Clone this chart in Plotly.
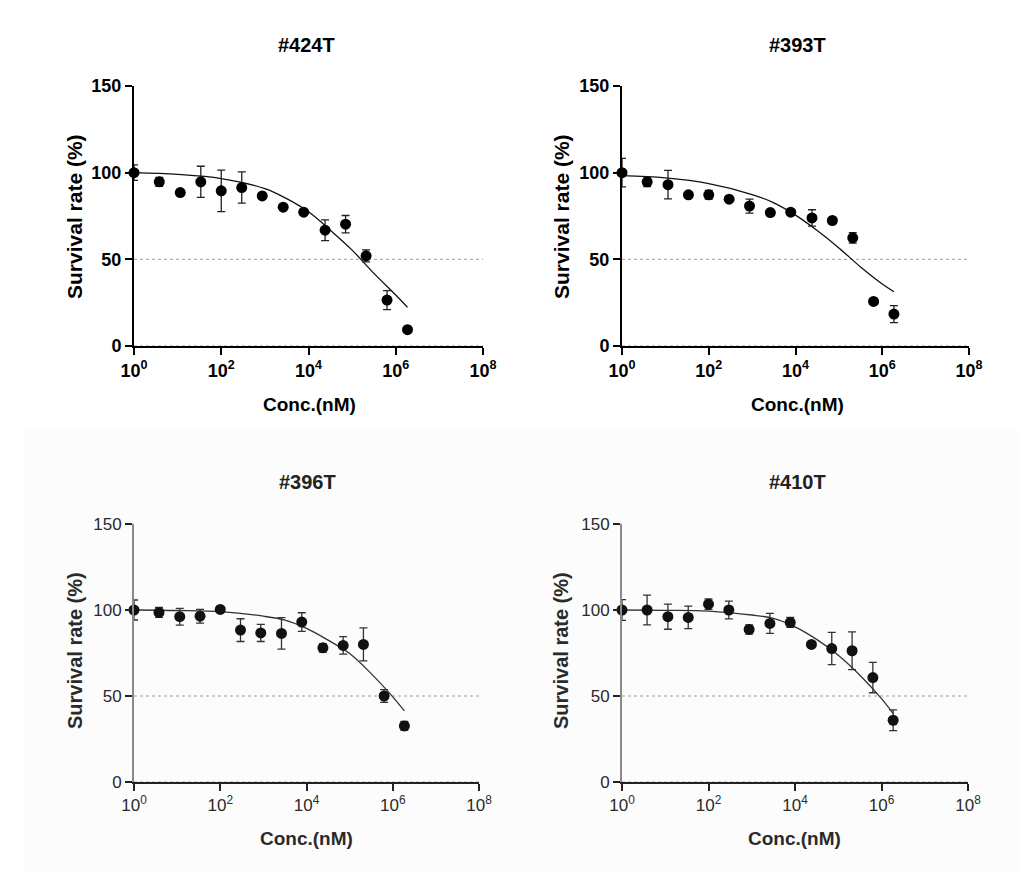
import plotly.graph_objects as go

# ---------------- data ----------------
conc = [1, 3.8, 11.5, 34, 100, 295, 870, 2630, 7760, 24000, 70800, 209000, 631000, 1860000]

titles = ["#424T", "#393T", "#396T", "#410T"]

surv_424 = [100, 94.7, 88.5, 94.7, 89.5, 91.4, 86.6, 80.1, 77.2, 66.8, 70.3, 52.0, 26.5, 9.4]
err_424 = [4.5, 2.6, 1.0, 9.0, 12.0, 9.0, 1.0, 1.0, 1.5, 6.0, 5.0, 3.5, 5.5, 1.0]

surv_393 = [100, 94.7, 93.1, 87.2, 87.2, 84.7, 80.7, 77.0, 77.2, 73.9, 72.4, 62.4, 25.7, 18.4]
err_393 = [8.2, 2.7, 8.2, 1.0, 2.5, 1.0, 4.0, 1.0, 1.0, 4.7, 1.0, 3.0, 1.0, 4.9]

surv_396 = [100, 98.6, 96.1, 96.4, 100.3, 88.3, 86.7, 86.4, 93.0, 78.0, 79.4, 80.0, 50.0, 32.6]
err_396 = [5.8, 2.9, 4.9, 4.0, 1.0, 6.6, 5.0, 9.2, 5.4, 2.5, 5.1, 9.6, 3.7, 2.6]

surv_410 = [100, 100, 96.1, 95.7, 103.4, 100, 88.7, 92.2, 92.8, 80.0, 77.6, 76.3, 60.7, 35.9]
err_410 = [6.0, 8.7, 7.3, 6.5, 3.0, 5.2, 2.7, 5.8, 2.9, 1.0, 9.4, 11.0, 8.8, 6.0]

# fitted curves
curve_x = [1, 10, 100, 1000, 3162, 10000, 31623, 100000, 316228, 1000000, 1862087]
curve_424 = [100, 99.0, 96.6, 90.8, 85.0, 77.4, 66.8, 55.3, 41.9, 29.4, 22.3]
curve_393 = [98.3, 97.0, 93.7, 87.4, 82.6, 75.5, 66.6, 56.6, 45.6, 35.8, 31.3]
curve_396 = [100, 99.7, 99.0, 96.4, 94.1, 89.3, 82.5, 74.7, 63.0, 49.5, 41.3]
curve_410 = [100, 99.8, 99.4, 97.1, 95.1, 90.2, 82.9, 73.7, 62.1, 48.5, 39.8]

half_line = [50, 50]
half_x = [1, 1e8]

x_tickvals = [1, 1e2, 1e4, 1e6, 1e8]
x_ticktext = ["10<sup>0</sup>", "10<sup>2</sup>", "10<sup>4</sup>", "10<sup>6</sup>", "10<sup>8</sup>"]
y_tickvals = [0, 50, 100, 150]

x_label = "Conc.(nM)"
y_label = "Survival rate (%)"

# ---------------- layout ----------------
W, H = 1028, 873
OFF = 8  # page body margin offset
panels = [
    dict(surv=surv_424, err=err_424, curve=curve_424, x0=134, x1=483, ytop=86, ybot=346,
         title_xy=(306, 45), xlab_xy=(309, 405), ylab_xy=(74, 217), top=True),
    dict(surv=surv_393, err=err_393, curve=curve_393, x0=622, x1=969, ytop=86, ybot=346,
         title_xy=(797, 45), xlab_xy=(797, 405), ylab_xy=(561, 217), top=True),
    dict(surv=surv_396, err=err_396, curve=curve_396, x0=134, x1=479, ytop=524, ybot=782,
         title_xy=(307, 482), xlab_xy=(306, 838), ylab_xy=(75, 651), top=False),
    dict(surv=surv_410, err=err_410, curve=curve_410, x0=622, x1=968, ytop=524, ybot=782,
         title_xy=(797, 482), xlab_xy=(794, 838), ylab_xy=(561, 651), top=False),
]


def px(x):
    return (x - OFF) / W


def py(y):
    return 1 - (y - OFF) / H


FONT = "Liberation Sans, Arial, sans-serif"
fig = go.Figure()

annotations = []
shapes = [dict(type="rect", xref="paper", yref="paper", x0=px(23), x1=1, y0=0, y1=py(430),
               fillcolor="#fcfcfc", line=dict(width=0), layer="below")]

for i, p in enumerate(panels):
    n = i + 1
    xa = "x" if n == 1 else f"x{n}"
    ya = "y" if n == 1 else f"y{n}"
    top = p["top"]
    txt_col = "#000000" if top else "#2a2a2a"
    ax_col = "#000000" if top else "#8a8a8a"
    xax_col = "#000000" if top else "#222222"
    mk_col = "#000000" if top else "#111111"
    bold = "bold" if top else "normal"

    # 50% reference
    fig.add_trace(go.Scatter(x=half_x, y=half_line, mode="lines", xaxis=xa, yaxis=ya,
                             line=dict(color="#9a9a9a", width=1, dash="dot"),
                             showlegend=False, hoverinfo="skip"))
    # baseline dotted
    fig.add_trace(go.Scatter(x=half_x, y=[0, 0], mode="lines", xaxis=xa, yaxis=ya,
                             line=dict(color="#9a9a9a", width=1, dash="dot"),
                             showlegend=False, hoverinfo="skip", cliponaxis=False))
    # fit curve
    fig.add_trace(go.Scatter(x=curve_x, y=p["curve"], mode="lines", xaxis=xa, yaxis=ya,
                             line=dict(color="#111111" if top else "#333333", width=1.3,
                                       shape="spline", smoothing=1.0),
                             showlegend=False))
    # data points
    fig.add_trace(go.Scatter(x=conc, y=p["surv"], mode="markers", xaxis=xa, yaxis=ya,
                             marker=dict(color=mk_col, size=11),
                             error_y=dict(type="data", array=p["err"], visible=True,
                                          color="#222222" if top else "#333333",
                                          thickness=1.3, width=4),
                             cliponaxis=False, showlegend=False))

    xdom = [px(p["x0"]), px(p["x1"])]
    ydom = [py(p["ybot"]), py(p["ytop"])]
    tickfont = dict(family=FONT, size=18 if top else 17, color=txt_col, weight=bold)
    fig.layout[("xaxis" if n == 1 else f"xaxis{n}")] = dict(
        type="log", range=[0, 8], domain=xdom, anchor=ya, automargin=False,
        tickvals=x_tickvals, ticktext=x_ticktext, ticks="outside", ticklen=7,
        tickwidth=2, tickcolor=xax_col, showline=True, linecolor=xax_col, linewidth=2,
        showgrid=False, zeroline=False, tickfont=tickfont)
    fig.layout[("yaxis" if n == 1 else f"yaxis{n}")] = dict(
        range=[0, 150], domain=ydom, anchor=xa, tickvals=y_tickvals, automargin=False,
        ticks="outside", ticklen=7, tickwidth=2, tickcolor=xax_col,
        showline=True, linecolor=ax_col, linewidth=2, showgrid=False, zeroline=False,
        tickfont=tickfont)

    # titles and axis labels
    tx, ty = p["title_xy"]
    annotations.append(dict(text="<b>" + titles[i] + "</b>", x=px(tx), y=py(ty),
                            xref="paper", yref="paper", showarrow=False,
                            xanchor="center", yanchor="middle",
                            font=dict(family=FONT, size=20, color="#000000" if top else "#222222")))
    lx, ly = p["xlab_xy"]
    annotations.append(dict(text="<b>" + x_label + "</b>", x=px(lx), y=py(ly),
                            xref="paper", yref="paper", showarrow=False,
                            xanchor="center", yanchor="middle",
                            font=dict(family=FONT, size=19, color=txt_col)))
    yx, yy = p["ylab_xy"]
    annotations.append(dict(text="<b>" + y_label + "</b>", x=px(yx), y=py(yy),
                            xref="paper", yref="paper", showarrow=False, textangle=-90,
                            xanchor="center", yanchor="middle",
                            font=dict(family=FONT, size=21 if top else 20, color=txt_col)))

fig.update_layout(width=W, height=H, margin=dict(l=0, r=0, t=0, b=0, autoexpand=False),
                  paper_bgcolor="white", plot_bgcolor="rgba(0,0,0,0)",
                  annotations=annotations, shapes=shapes, showlegend=False)

fig.write_html("out.html")
